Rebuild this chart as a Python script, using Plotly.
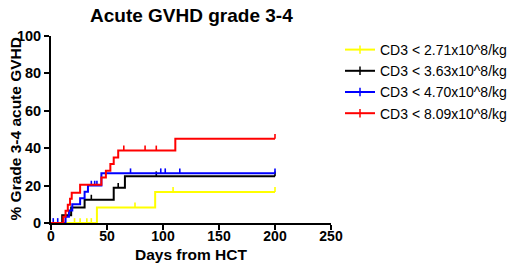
import plotly.graph_objects as go

# ---- data ----
series_names = ["CD3 < 2.71x10^8/kg", "CD3 < 3.63x10^8/kg",
                "CD3 < 4.70x10^8/kg", "CD3 < 8.09x10^8/kg"]
series_colors = ["#FFFF00", "#000000", "#0000FF", "#FF0000"]

yellow_event_days = [41, 93]
yellow_event_pct = [8.3, 16.6]
yellow_censor_days = [21, 26, 32, 36, 75, 109, 200]

black_event_days = [10, 18, 30, 56, 66]
black_event_pct = [4.2, 8.3, 12.5, 18.8, 25.0]
black_censor_days = [36, 60, 94, 200]

blue_event_days = [13, 16, 19, 26, 30, 33, 45]
blue_event_pct = [3.3, 6.7, 10.0, 13.3, 16.7, 20.0, 26.6]
blue_censor_days = [2, 6, 36, 39, 41, 71, 98, 102, 115, 200]

red_event_days = [11, 13, 15, 17, 18.5, 26, 45, 49, 53, 56, 60, 111]
red_event_pct = [3.3, 6.5, 9.8, 13.0, 16.2, 20.4, 24.3, 28.0, 31.5, 35.0, 38.8, 45.0]
red_censor_days = [65, 84, 94, 200]

x_tick_vals = [0, 50, 100, 150, 200, 250]
y_tick_vals = [0, 20, 40, 60, 80, 100]

series = [
    (yellow_event_days, yellow_event_pct, yellow_censor_days),
    (black_event_days, black_event_pct, black_censor_days),
    (blue_event_days, blue_event_pct, blue_censor_days),
    (red_event_days, red_event_pct, red_censor_days),
]

FONT = "Arial, 'Liberation Sans', Helvetica, sans-serif"

# the page body has an 8px margin, so the figure is 8px smaller than the window
W, H = 512, 260
L, T, R, B = 43, 28, 189, 45


def step_value(ev_d, ev_p, day):
    val = 0.0
    for d, p in zip(ev_d, ev_p):
        if d <= day:
            val = p
    return val


fig = go.Figure()

# data curves
for (ev_d, ev_p, cen_d), name, color in zip(series, series_names, series_colors):
    end_day = max(cen_d)
    xs = [0] + list(ev_d) + [end_day]
    ys = [0] + list(ev_p) + [ev_p[-1]]
    fig.add_trace(go.Scatter(x=xs, y=ys, mode="lines", line=dict(color=color, width=2, shape="hv"),
                             showlegend=False, hoverinfo="skip", cliponaxis=False))
    cy = [step_value(ev_d, ev_p, d) for d in cen_d]
    fig.add_trace(go.Scatter(x=cen_d, y=cy, mode="markers", marker=dict(size=0.1, color=color, opacity=0),
                             error_y=dict(type="data", symmetric=False, array=[2.6] * len(cen_d),
                                          arrayminus=[0] * len(cen_d), width=0, thickness=1.6, color=color),
                             showlegend=False, hoverinfo="skip", cliponaxis=False))

# legend entries
for name, color in zip(series_names, series_colors):
    fig.add_trace(go.Scatter(x=[None], y=[None], mode="lines+markers", name=name,
                             line=dict(color=color, width=2),
                             marker=dict(symbol="line-ns-open", size=6, color=color,
                                         line=dict(color=color, width=1.5))))

fig.update_layout(
    width=W, height=H,
    margin=dict(l=L, r=R, t=T, b=B, autoexpand=False),
    paper_bgcolor="white", plot_bgcolor="white",
    font=dict(family=FONT, color="black"),
    legend=dict(xref="container", yref="container", x=332 / W, xanchor="left",
                y=1 - 26 / H, yanchor="top", font=dict(size=14, color="black"),
                bgcolor="rgba(0,0,0,0)", tracegroupgap=0, itemwidth=30),
    xaxis=dict(range=[0, 250], tickvals=x_tick_vals, showline=True, linecolor="black", linewidth=2,
               ticks="outside", ticklen=5, tickwidth=2, tickcolor="black", showgrid=False, zeroline=False,
               automargin=False, ticklabelstandoff=-6,
               tickfont=dict(size=14, family=FONT, weight="bold")),
    yaxis=dict(range=[0, 100], tickvals=y_tick_vals, showline=True, linecolor="black", linewidth=2,
               ticks="outside", ticklen=5, tickwidth=2, tickcolor="black", showgrid=False, zeroline=False,
               automargin=False,
               tickfont=dict(size=14.5, family=FONT, weight="bold")),
    annotations=[
        dict(text="<b>Acute GVHD grade 3-4</b>", xref="paper", yref="paper", x=0.5, y=1,
             xanchor="center", yanchor="middle", yshift=21, showarrow=False,
             font=dict(size=19, color="black")),
        dict(text="<b>Days from HCT</b>", xref="paper", yref="paper", x=0.5, y=0, xanchor="center",
             yanchor="middle", yshift=-31, showarrow=False, font=dict(size=15.5, color="black")),
        dict(text="<b>% Grade 3-4 acute GVHD</b>", xref="paper", yref="paper", x=0, y=0.5,
             xanchor="center", yanchor="middle", xshift=-36, textangle=-90, showarrow=False,
             font=dict(size=15.5, color="black")),
    ],
)

fig.write_html("out.html")
